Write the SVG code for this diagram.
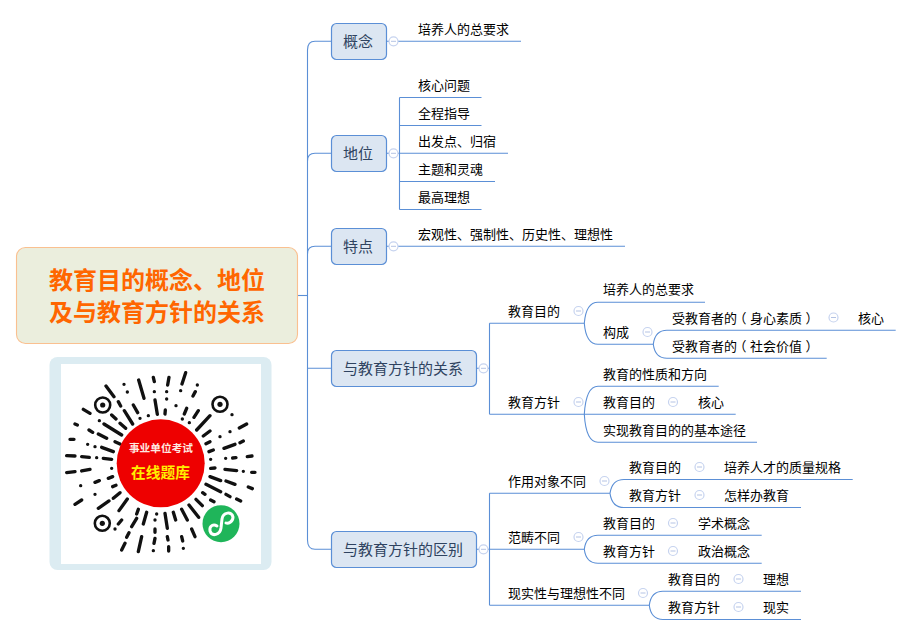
<svg xmlns="http://www.w3.org/2000/svg" width="912" height="635" viewBox="0 0 912 635">
<style>
text{font-family:"Noto Sans CJK SC","Noto Sans",sans-serif}
.c{fill:none;stroke:#5b8fd6;stroke-width:1.1}
.n rect{fill:#dce6f2;stroke:#5b8fd6;stroke-width:1.2}
.n text{font-size:15px;fill:#2f4360}
.t{font-size:13px;fill:#000}
.tg circle{fill:#fff;stroke:#c6d3ef;stroke-width:1.2}
.tg path{stroke:#b4c3e4;stroke-width:1;fill:none}
.q path{fill:none;stroke:#111;stroke-width:10;stroke-linecap:round}
.f{fill:none;stroke:#111;stroke-width:2.6}
</style>
<defs>
<g id="tog" class="tg"><circle r="4.5"/><path d="M-2.5 0H2.5"/></g>
</defs>
<g id="connectors">
<path class="c" d="M297 295.5H307.5"/>
<path class="c" d="M331.5 41.3H315Q307.5 41.3 307.5 50V540Q307.5 549.3 315 549.3H331.5"/>
<path class="c" d="M307.5 161Q307.5 153.3 315 153.3H331.5M307.5 254Q307.5 246.3 315 246.3H331.5M307.5 368.3H331.5"/>
<path class="c" d="M386.5 41.3H521"/>
<path class="c" d="M386.5 153.3H508M399.5 97.5V209.5M399.5 97.5H481.5M399.5 125.5H481.5M399.5 181.5H495M399.5 209.5H481.5"/>
<path class="c" d="M386.5 246.3H625"/>
<path class="c" d="M476.5 368.3H489.5M489.5 323.3V414.3M489.5 323.3H584.3M489.5 414.3H598"/>
<path class="c" d="M584.3 323.3Q586 302.3 598 302.3H705M584.3 323.3Q586 344.3 598 344.3H653.3"/>
<path class="c" d="M653.3 344.3Q655 330.3 667 330.3H895.7M653.3 344.3Q655 358.3 667 358.3H826.7"/>
<path class="c" d="M584.3 414.3Q586 386.3 598 386.3H718.7M598 414.3H735.7M584.3 414.3Q586 442.3 598 442.3H757"/>
<path class="c" d="M476.5 549.3H584.3M489.5 493.3V605.3M489.5 493.3H610M489.5 605.3H649.3"/>
<path class="c" d="M610 493.3Q612 479.5 624 479.5H852.7M610 493.3Q612 507.5 624 507.5H801"/>
<path class="c" d="M584.3 549.3Q586 535.3 598 535.3H761.7M584.3 549.3Q586 563.3 598 563.3H761.7"/>
<path class="c" d="M649.3 605.3Q651 591.3 663 591.3H801M649.3 605.3Q651 619.5 663 619.5H801"/>
</g>
<g id="root">
<rect x="16.5" y="247.5" width="281" height="96" rx="9" fill="#ebeedd" stroke="#fac090" stroke-width="1.1"/>
<text x="157" y="289" text-anchor="middle" font-size="24" font-weight="700" fill="#ff6600">教育目的概念、地位</text>
<text x="157" y="321" text-anchor="middle" font-size="24" font-weight="700" fill="#ff6600">及与教育方针的关系</text>
</g>
<g id="qr">
<rect x="49.5" y="357" width="222" height="213" rx="8" fill="#dcecf2"/>
<rect x="61" y="364" width="200" height="200" fill="#fff"/>
<g class="q" transform="translate(40 350) scale(.3333)">
<path d="M198 108L222 140M252 103h.1M262 126h.1M296 90L312 145M340 82L343 95M343 125h.1M345 150L352 193M387 82L383 105M380 125h.1M380 147h.1M376 180L375 192M437 68L426 102M472 105h.1M466 125L459 138M422 122h.1M408 167h.1M440 175L433 192M475 182L462 202M427 207h.1M448 218h.1M510 197L470 240M510 243L490 258M576 194h.1M620 222L598 234M570 245h.1M540 260h.1M610 273L600 278M585 283L552 295M510 275L498 281M520 300L507 305M636 318L622 320M588 323L578 324M557 325h.1M512 328h.1M525 354L512 355M555 358L590 362M610 364h.1M635 367L645 367M510 380L542 392M558 393L585 403M625 411L637 416M498 403L542 425M488 428L495 433M558 433L570 440M590 447L602 453M468 448L487 467M512 450L522 455M447 465L476 502M425 478L442 510M400 487L407 510M375 490L382 535M350 492h.1M320 487L310 522M295 478L290 492M345 510h.1M345 537L345 547M290 505L275 530M245 510L235 522M225 537h.1M262 447L237 482M240 428L220 445M207 453L175 475M125 450L105 463M165 433h.1M122 407h.1M178 392L165 397M218 380L205 385M218 410L228 406M215 355h.1M150 358L125 363M105 365L80 368M215 328L190 325M170 323h.1M148 322L125 320M105 318L80 317M220 305L185 292M165 290h.1M143 283h.1M102 268L90 268M200 265L175 252M158 247L147 240M112 225L105 222M240 282L225 275M245 255L192 222M257 235L240 220M228 207L215 195M178 212h.1M150 190L130 178M235 155L242 168M253 182L278 222M280 165L293 188M300 205h.1M325 197h.1M267 548L260 562M255 580L245 600M305 560L295 605M345 565L342 580M340 602h.1M382 560L384 570M386 590L386 603M425 560L428 573M430 595h.1M455 537L465 560"/>
</g>
<circle class="f" cx="102.7" cy="405" r="7.5"/><circle cx="102.7" cy="405" r="2.6" fill="#111"/>
<circle class="f" cx="220" cy="404.3" r="7.5"/><circle cx="220" cy="404.3" r="2.6" fill="#111"/>
<circle class="f" cx="102.3" cy="523.3" r="7.5"/><circle cx="102.3" cy="523.3" r="2.6" fill="#111"/>
<circle cx="160.7" cy="463.3" r="44" fill="#ee0000"/>
<text x="161" y="452" text-anchor="middle" font-size="10.7" font-weight="700" fill="#ffe9e0">事业单位考试</text>
<text x="160.5" y="478" text-anchor="middle" font-size="14.7" font-weight="700" fill="#ffee00">在线题库</text>
<circle cx="221" cy="523.7" r="18.5" fill="#1fb55a"/>
<path d="M210 531C212 537 220 535 221 528L222 519C223 512 232 511 233 517C233 522 228 524 226 523M217 526C214 524 209 525 210 531" fill="none" stroke="#fff" stroke-width="3" stroke-linecap="round"/>
</g>
<g id="n1" class="n"><rect x="331.5" y="23.5" width="55" height="36" rx="5"/><text x="343" y="46.5">概念</text></g>
<g id="n2" class="n"><rect x="331.5" y="135.5" width="55" height="36" rx="5"/><text x="343" y="158.5">地位</text></g>
<g id="n3" class="n"><rect x="331.5" y="228.5" width="55" height="36" rx="5"/><text x="343" y="251.5">特点</text></g>
<g id="n4" class="n"><rect x="331.5" y="350.5" width="145" height="36" rx="5"/><text x="343" y="373.5">与教育方针的关系</text></g>
<g id="n5" class="n"><rect x="331.5" y="531.5" width="145" height="36" rx="5"/><text x="343" y="554.5">与教育方针的区别</text></g>
<g id="labels">
<text class="t" x="418" y="34">培养人的总要求</text>
<text class="t" x="418" y="90">核心问题</text>
<text class="t" x="418" y="118">全程指导</text>
<text class="t" x="418" y="146">出发点、归宿</text>
<text class="t" x="418" y="174">主题和灵魂</text>
<text class="t" x="418" y="202">最高理想</text>
<text class="t" x="418" y="239">宏观性、强制性、历史性、理想性</text>
<text class="t" x="508" y="316">教育目的</text>
<text class="t" x="508" y="407">教育方针</text>
<text class="t" x="603" y="294">培养人的总要求</text>
<text class="t" x="603" y="337">构成</text>
<text class="t" x="672" y="323">受教育者的<tspan dx="-3.5">（</tspan><tspan dx="3.5">身心素质</tspan><tspan dx="3.5">）</tspan></text>
<text class="t" x="858" y="323">核心</text>
<text class="t" x="672" y="351">受教育者的<tspan dx="-3.5">（</tspan><tspan dx="3.5">社会价值</tspan><tspan dx="3.5">）</tspan></text>
<text class="t" x="603" y="379">教育的性质和方向</text>
<text class="t" x="603" y="407">教育目的</text>
<text class="t" x="698" y="407">核心</text>
<text class="t" x="603" y="435">实现教育目的的基本途径</text>
<text class="t" x="508" y="486">作用对象不同</text>
<text class="t" x="629" y="472">教育目的</text>
<text class="t" x="724" y="472">培养人才的质量规格</text>
<text class="t" x="629" y="500">教育方针</text>
<text class="t" x="724" y="500">怎样办教育</text>
<text class="t" x="508" y="542">范畴不同</text>
<text class="t" x="603" y="528">教育目的</text>
<text class="t" x="698" y="528">学术概念</text>
<text class="t" x="603" y="556">教育方针</text>
<text class="t" x="698" y="556">政治概念</text>
<text class="t" x="508" y="598">现实性与理想性不同</text>
<text class="t" x="668" y="584">教育目的</text>
<text class="t" x="763" y="584">理想</text>
<text class="t" x="668" y="612">教育方针</text>
<text class="t" x="763" y="612">现实</text>
</g>
<g id="toggles">
<use href="#tog" x="393.5" y="41.3"/><use href="#tog" x="393.5" y="153.3"/><use href="#tog" x="393.5" y="246.3"/><use href="#tog" x="483.5" y="368.3"/><use href="#tog" x="483.5" y="549.3"/>
<use href="#tog" x="578.5" y="311"/><use href="#tog" x="578.5" y="402"/><use href="#tog" x="647.5" y="332"/><use href="#tog" x="833.5" y="317.5"/><use href="#tog" x="673" y="402"/>
<use href="#tog" x="604.5" y="481"/><use href="#tog" x="699.5" y="467"/><use href="#tog" x="699.5" y="495"/><use href="#tog" x="578.5" y="537"/><use href="#tog" x="673" y="523"/><use href="#tog" x="673" y="551"/><use href="#tog" x="643" y="593"/><use href="#tog" x="738.5" y="579"/><use href="#tog" x="738.5" y="607"/>
</g>
</svg>
